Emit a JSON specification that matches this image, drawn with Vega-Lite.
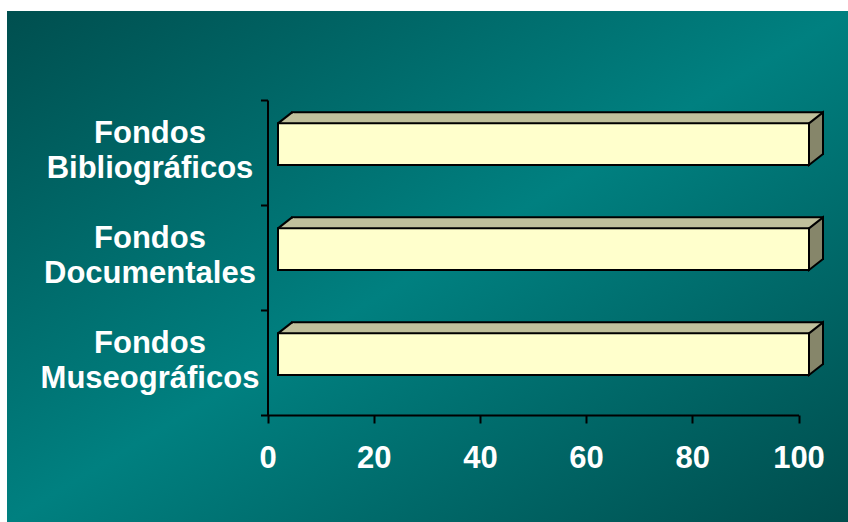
{
  "$schema": "https://vega.github.io/schema/vega-lite/v6.json",
  "width": 841,
  "height": 511,
  "autosize": {"type": "none"},
  "padding": {"left": 7, "top": 11, "right": 0, "bottom": 0},
  "background": "#ffffff",
  "config": {
    "view": {
      "stroke": null,
      "fill": {
        "gradient": "linear",
        "x1": 0, "y1": 0, "x2": 1, "y2": 1,
        "stops": [
          {"offset": 0, "color": "#004f4f"},
          {"offset": 0.5, "color": "#008080"},
          {"offset": 1, "color": "#004d4d"}
        ]
      }
    }
  },
  "data": {
    "values": [
      {"categoria": "Fondos Bibliográficos", "valor": 100},
      {"categoria": "Fondos Documentales", "valor": 100},
      {"categoria": "Fondos Museográficos", "valor": 100}
    ]
  },
  "encoding": {
    "y": {
      "field": "categoria",
      "type": "nominal",
      "sort": ["Fondos Bibliográficos", "Fondos Documentales", "Fondos Museográficos"],
      "scale": {"range": [89, 404], "paddingInner": 0, "paddingOuter": 0},
      "axis": {
        "title": null,
        "orient": "left",
        "offset": -260.5,
        "domainColor": "#000000",
        "domainWidth": 2,
        "tickColor": "#000000",
        "tickWidth": 2,
        "tickSize": 7,
        "tickBand": "extent",
        "labelExpr": "split(datum.label, ' ')",
        "labelFont": "Liberation Sans",
        "labelFontWeight": "bold",
        "labelFontSize": 31,
        "labelLineHeight": 35,
        "labelColor": "#ffffff",
        "labelAlign": "center",
        "labelBaseline": "middle",
        "labelOffset": -19,
        "labelPadding": 111,
        "labelLimit": 400,
        "grid": false
      }
    },
    "x": {
      "field": "valor",
      "type": "quantitative",
      "scale": {"domain": [0, 100], "range": [260.5, 791.5], "nice": false},
      "axis": {
        "title": null,
        "orient": "bottom",
        "offset": -107,
        "values": [0, 20, 40, 60, 80, 100],
        "domainColor": "#000000",
        "domainWidth": 2,
        "tickColor": "#000000",
        "tickWidth": 2,
        "tickSize": 8,
        "labelFont": "Liberation Sans",
        "labelFontWeight": "bold",
        "labelFontSize": 31,
        "labelColor": "#ffffff",
        "labelPadding": 20,
        "labelFlush": false,
        "labelOverlap": false,
        "grid": false
      }
    }
  },
  "layer": [
    {
      "mark": {
        "type": "bar",
        "height": {"band": 0.397},
        "xOffset": 24.5,
        "x2Offset": 24.5,
        "yOffset": -19.3,
        "y2Offset": -19.3,
        "fill": "#c0c09c",
        "stroke": "#000000",
        "strokeWidth": 2,
        "strokeJoin": "miter"
      }
    },
    {
      "mark": {
        "type": "point",
        "shape": "M10.5,-29.15L24.5,-40.15L24.5,-39L26.5,-39L26.5,-29.15Z",
        "size": 4,
        "filled": true,
        "fill": "#c0c09c",
        "opacity": 1,
        "strokeWidth": 0
      },
      "encoding": {"x": {"datum": 0, "type": "quantitative"}}
    },
    {
      "mark": {
        "type": "point",
        "shape": "M10.5,-29.15L24.5,-40.15",
        "size": 4,
        "filled": false,
        "stroke": "#000000",
        "strokeWidth": 2,
        "opacity": 1
      },
      "encoding": {"x": {"datum": 0, "type": "quantitative"}}
    },
    {
      "mark": {
        "type": "point",
        "shape": "M10.5,-29.15L24.5,-40.15L24.5,1.55L10.5,12.55Z",
        "size": 4,
        "filled": true,
        "fill": "#86866a",
        "stroke": "#000000",
        "strokeWidth": 2,
        "strokeJoin": "miter",
        "opacity": 1
      }
    },
    {
      "mark": {
        "type": "bar",
        "height": {"band": 0.397},
        "xOffset": 10.5,
        "x2Offset": 10.5,
        "yOffset": -8.3,
        "y2Offset": -8.3,
        "fill": "#ffffcc",
        "stroke": "#000000",
        "strokeWidth": 2,
        "strokeJoin": "miter"
      }
    }
  ]
}
